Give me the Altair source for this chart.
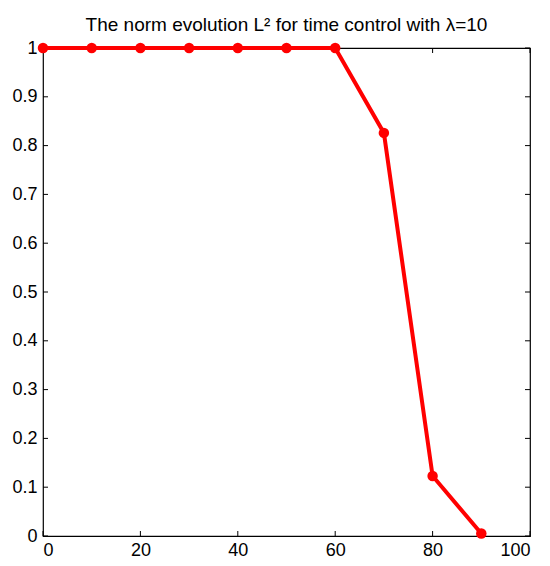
import altair as alt
import pandas as pd

x_vals = [0, 10, 20, 30, 40, 50, 60, 70, 80, 90]
y_vals = [1.0, 1.0, 1.0, 1.0, 1.0, 1.0, 1.0, 0.826, 0.123, 0.005]
x_ticks = [0, 20, 40, 60, 80, 100]
y_ticks = [0, 0.1, 0.2, 0.3, 0.4, 0.5, 0.6, 0.7, 0.8, 0.9, 1.0]
title_text = "The norm evolution L² for time control with λ=10"

W, H = 487, 488
FONT = "Liberation Sans"

df = pd.DataFrame({"x": x_vals, "y": y_vals})
dfx = pd.DataFrame({"xt": x_ticks})
dfy = pd.DataFrame({"yt": y_ticks})

xs = alt.Scale(domain=[0, 100], nice=False, zero=False)
ys = alt.Scale(domain=[0, 1], nice=False, zero=False)

xaxis = alt.Axis(values=x_ticks, format="d", ticks=False, domain=False, grid=False,
                 labelFont=FONT, labelFontSize=18, labelColor="black", labelPadding=5,
                 title=None)
yaxis = alt.Axis(values=y_ticks, format="~g", ticks=False, domain=False, grid=False,
                 labelFont=FONT, labelFontSize=18, labelColor="black", labelPadding=6,
                 title=None)

line = alt.Chart(df).mark_line(color="#ff0000", strokeWidth=4).encode(
    x=alt.X("x:Q", scale=xs, axis=xaxis),
    y=alt.Y("y:Q", scale=ys, axis=yaxis),
)
pts = alt.Chart(df).mark_circle(color="#ff0000", opacity=1, size=110).encode(
    x=alt.X("x:Q", scale=xs),
    y=alt.Y("y:Q", scale=ys),
)

tk = 5
xb = alt.Chart(dfx).mark_rule(color="black", strokeWidth=1).encode(
    x=alt.X("xt:Q", scale=xs), y=alt.value(H), y2=alt.value(H - tk))
xt = alt.Chart(dfx).mark_rule(color="black", strokeWidth=1).encode(
    x=alt.X("xt:Q", scale=xs), y=alt.value(0), y2=alt.value(tk))
yl = alt.Chart(dfy).mark_rule(color="black", strokeWidth=1).encode(
    y=alt.Y("yt:Q", scale=ys), x=alt.value(0), x2=alt.value(tk))
yr = alt.Chart(dfy).mark_rule(color="black", strokeWidth=1).encode(
    y=alt.Y("yt:Q", scale=ys), x=alt.value(W), x2=alt.value(W - tk))

chart = alt.layer(xb, xt, yl, yr, line, pts).properties(
    width=W, height=H,
    title=alt.TitleParams(text=title_text, font=FONT, fontSize=19, fontWeight="normal",
                          color="black", anchor="middle", offset=4),
    autosize=alt.AutoSizeParams(type="none"),
    padding={"left": 35, "top": 40, "right": 12, "bottom": 22},
).configure(background="white").configure_view(stroke="black", strokeWidth=1.2)

chart.save("out.html", embed_options={"renderer": "svg", "actions": False})
